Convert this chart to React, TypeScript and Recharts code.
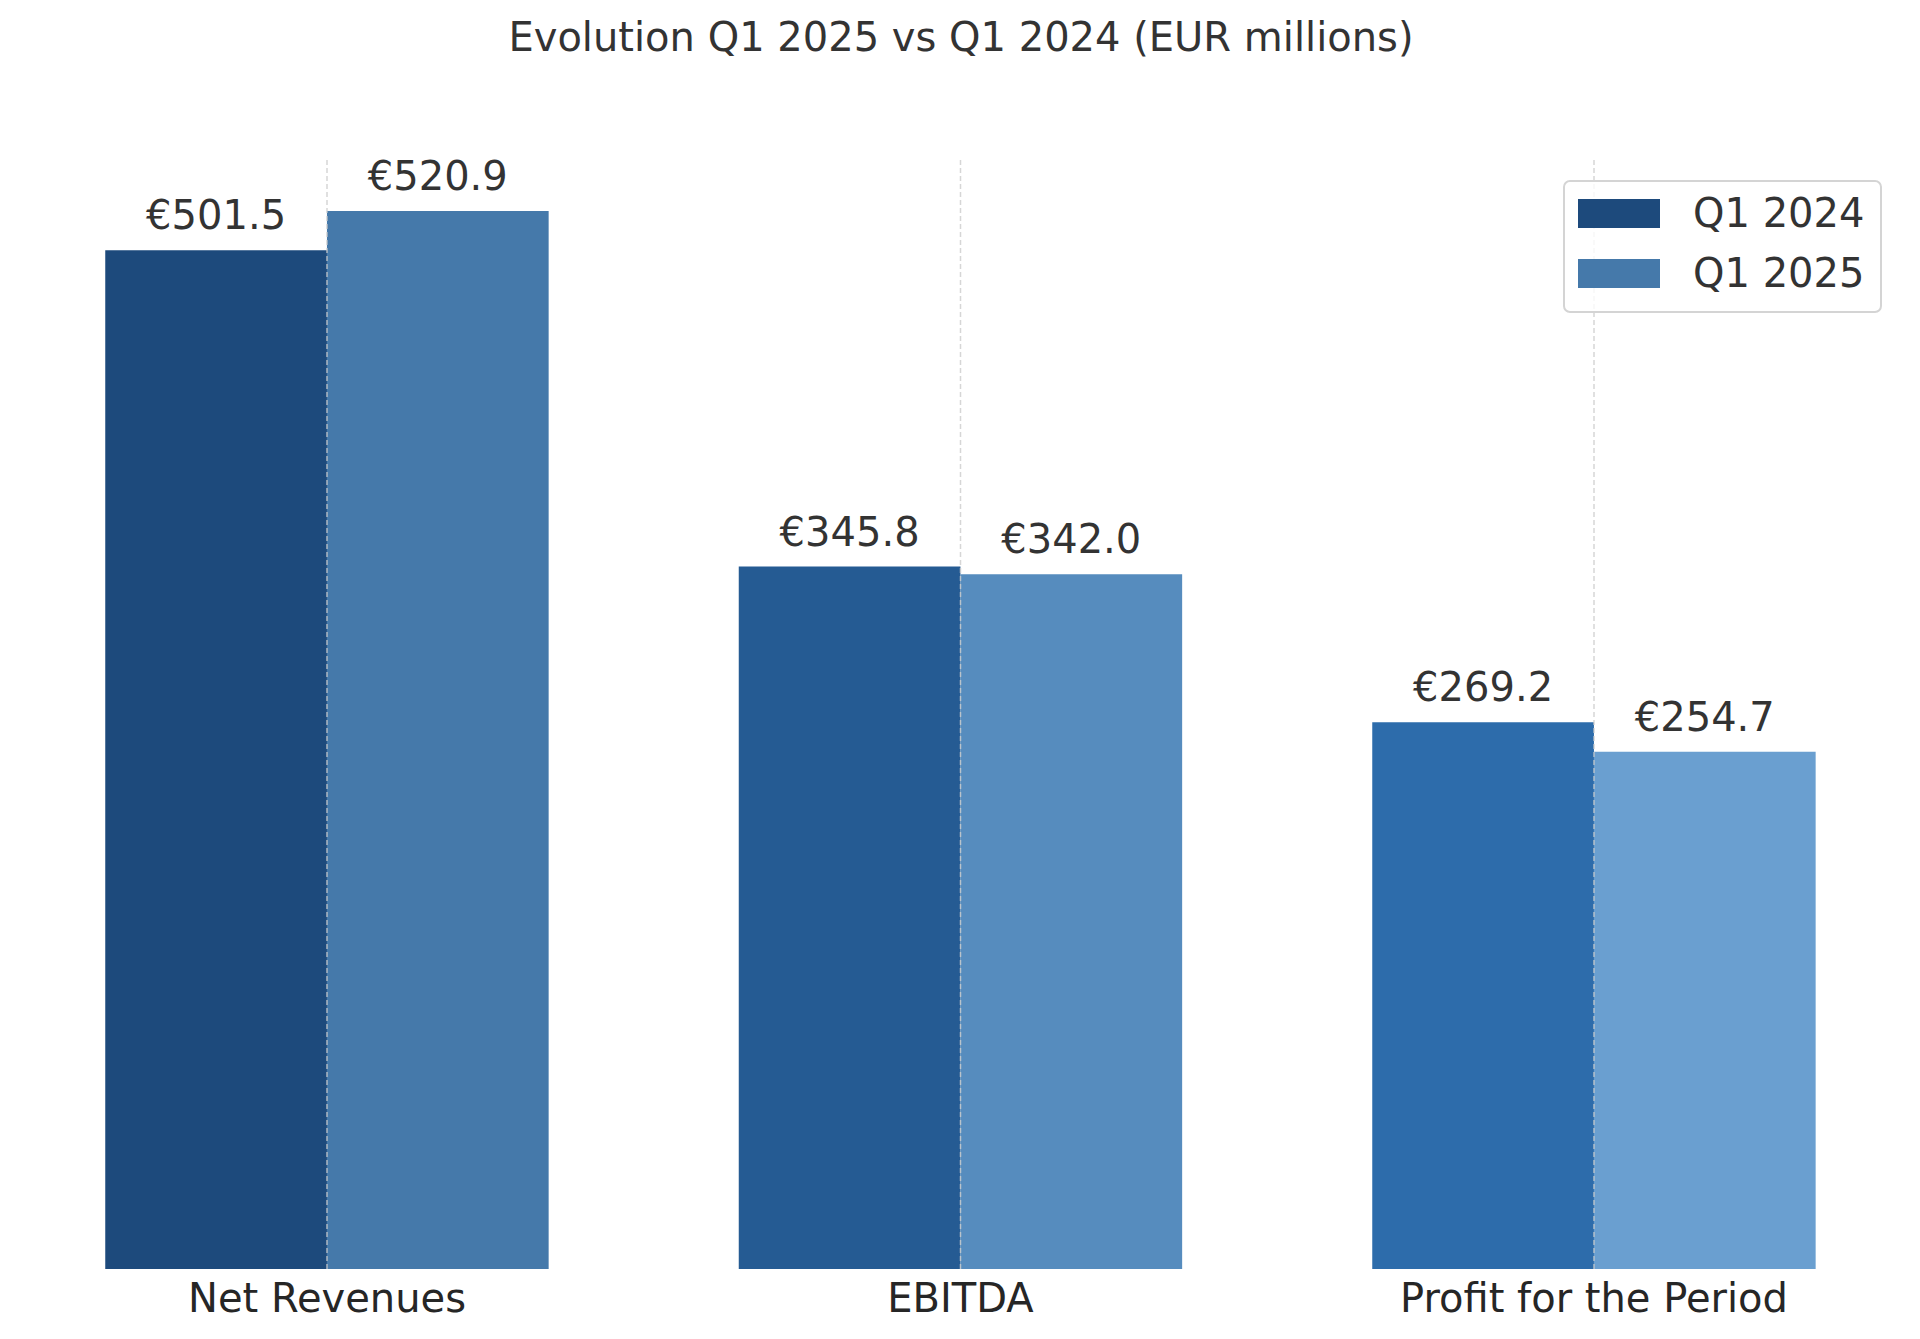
import React from "react";
import {
    BarChart,
    Bar,
    XAxis,
    YAxis,
    Cell,
    LabelList,
    Legend,
    ReferenceLine,
} from "recharts";

const categories = ["Net Revenues", "EBITDA", "Profit for the Period"];
const q1_2024 = [501.5, 345.8, 269.2];
const q1_2025 = [520.9, 342.0, 254.7];
const colors2024 = ["#1d4a7c", "#255b93", "#2d6cab"];
const colors2025 = ["#4579aa", "#568cbe", "#6a9fd0"];

const FONT = "'DejaVu Sans', sans-serif";
const TEXT = "#333333";

const chartData = categories.map((name, i) => ({
    name,
    q2024: q1_2024[i],
    q2025: q1_2025[i],
}));

// eslint-disable-next-line @typescript-eslint/no-explicit-any
function ValueLabel({ x, y, width, value }: any) {
    return (
        <text
            x={Number(x) + Number(width) / 2}
            y={Number(y) - 21}
            textAnchor="middle"
            fontSize={40}
            fontFamily={FONT}
            fill={TEXT}
        >
            €{Number(value).toFixed(1)}
        </text>
    );
}

// eslint-disable-next-line @typescript-eslint/no-explicit-any
function CategoryTick({ x, y, payload }: any) {
    return (
        <text
            x={x}
            y={Number(y) + 43}
            textAnchor="middle"
            fontSize={40}
            fontFamily={FONT}
            fill="#262626"
        >
            {payload.value}
        </text>
    );
}

// eslint-disable-next-line @typescript-eslint/no-explicit-any
function LegendBox({ payload }: any) {
    return (
        <div
            style={{
                boxSizing: "border-box",
                width: 319,
                height: 133,
                border: "2px solid #d4d4d4",
                borderRadius: 7,
                background: "rgba(255,255,255,0.8)",
                padding: "17px 0 0 13px",
                fontFamily: FONT,
            }}
        >
            {(payload || []).map((p: any, i: number) => (
                <div
                    key={p.value}
                    style={{
                        display: "flex",
                        alignItems: "center",
                        height: 29,
                        marginBottom: i === 0 ? 31 : 0,
                    }}
                >
                    <div style={{ width: 82, height: 29, background: p.color }} />
                    <span
                        style={{
                            marginLeft: 33,
                            fontSize: 40,
                            lineHeight: "29px",
                            color: TEXT,
                            whiteSpace: "nowrap",
                        }}
                    >
                        {p.value}
                    </span>
                </div>
            ))}
        </div>
    );
}

export default function App() {
    return (
        <div
            style={{
                position: "absolute",
                left: 0,
                top: 0,
                width: 1920,
                height: 1339,
                background: "#ffffff",
            }}
        >
            <div
                style={{
                    position: "absolute",
                    left: 0,
                    top: 17,
                    width: 1922,
                    textAlign: "center",
                    fontFamily: FONT,
                    fontSize: 40,
                    lineHeight: "40px",
                    color: TEXT,
                }}
            >
                Evolution Q1 2025 vs Q1 2024 (EUR millions)
            </div>
            <BarChart
                width={1920}
                height={1339}
                data={chartData}
                margin={{ top: 158, right: 9.25, bottom: 0, left: 10.25 }}
                barGap={0}
                barSize={221.7}
            >
                <XAxis
                    dataKey="name"
                    axisLine={false}
                    tickLine={false}
                    tickSize={0}
                    tickMargin={0}
                    height={70}
                    interval={0}
                    tick={<CategoryTick />}
                />
                <YAxis hide domain={[0, 546.945]} />
                <Legend
                    layout="vertical"
                    align="center"
                    verticalAlign="middle"
                    content={<LegendBox />}
                    wrapperStyle={{ position: "absolute", left: 1563, top: 180, width: 319, height: 133 }}
                />
                <Bar dataKey="q2024" name="Q1 2024" fill={colors2024[0]} isAnimationActive={false}>
                    {chartData.map((d, i) => (
                        <Cell key={d.name} fill={colors2024[i]} />
                    ))}
                    <LabelList dataKey="q2024" content={<ValueLabel />} />
                </Bar>
                <Bar dataKey="q2025" name="Q1 2025" fill={colors2025[0]} isAnimationActive={false}>
                    {chartData.map((d, i) => (
                        <Cell key={d.name} fill={colors2025[i]} />
                    ))}
                    <LabelList dataKey="q2025" content={<ValueLabel />} />
                </Bar>
                {categories.map((c) => (
                    <ReferenceLine
                        key={c}
                        x={c}
                        stroke="#cccccc"
                        strokeWidth={1.5}
                        strokeDasharray="5 3"
                        strokeOpacity={0.8}
                    />
                ))}
            </BarChart>
        </div>
    );
}
